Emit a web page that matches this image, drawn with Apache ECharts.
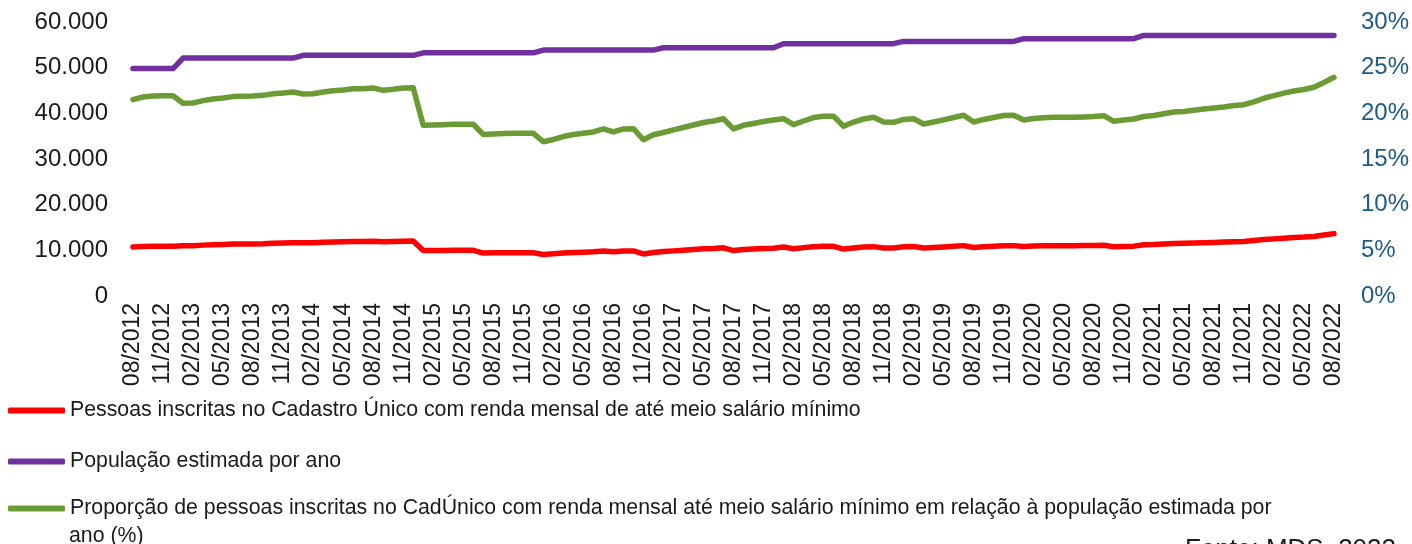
<!DOCTYPE html>
<html>
<head>
<meta charset="utf-8">
<script src="https://cdn.jsdelivr.net/npm/echarts@6/dist/echarts.min.js"></script>
<style>
  html, body { margin: 0; padding: 0; background: #fff; }
  #chart { width: 1412px; height: 544px; }
</style>
</head>
<body>
<div id="chart"></div>
<script>
// months 08/2012 .. 08/2022, label every 3rd one
const firstMonth = 8
const firstYear = 2012
const monthCount = 121
const months = []
for (let i = 0; i < monthCount; i++) {
  const m = (firstMonth - 1 + i) % 12 + 1
  const y = firstYear + Math.floor((firstMonth - 1 + i) / 12)
  months.push((m < 10 ? '0' + m : '' + m) + '/' + y)
}

const leftTicks = [0, 10000, 20000, 30000, 40000, 50000, 60000]
const rightTicks = [0, 5, 10, 15, 20, 25, 30]

// Pessoas inscritas no CadÚnico com renda até meio salário mínimo
const inscritos = [
  10710, 10850, 10910, 10920, 10920, 10990, 11010, 11140, 11240, 11300,
  11370, 11390, 11410, 11450, 11540, 11580, 11640, 11660, 11670, 11770,
  11850, 11890, 11960, 11960, 12000, 11870, 11930, 12000, 12020, 9950,
  9970, 9990, 10010, 10010, 10010, 9410, 9450, 9470, 9480, 9480,
  9480, 9100, 9230, 9400, 9520, 9600, 9670, 9850, 9670, 9850,
  9870, 9210, 9510, 9730, 9880, 10030, 10170, 10330, 10410, 10550,
  9940, 10160, 10270, 10390, 10470, 10720, 10360, 10590, 10800, 10870,
  10870, 10270, 10530, 10710, 10810, 10530, 10510, 10780, 10820, 10500,
  10620, 10750, 10890, 11030, 10620, 10780, 10890, 11020, 11030, 10860,
  10950, 10990, 11030, 11030, 11030, 11040, 11070, 11120, 10780, 10860,
  10920, 11210, 11270, 11390, 11500, 11530, 11600, 11680, 11740, 11800,
  11900, 11950, 12130, 12350, 12510, 12670, 12810, 12900, 13040, 13340,
  13660
]

// População estimada por ano
const populacao = [
  49800, 49800, 49800, 49800, 49800, 52100, 52100, 52100, 52100, 52100,
  52100, 52100, 52100, 52100, 52100, 52100, 52100, 52700, 52700, 52700,
  52700, 52700, 52700, 52700, 52700, 52700, 52700, 52700, 52700, 53250,
  53250, 53250, 53250, 53250, 53250, 53250, 53250, 53250, 53250, 53250,
  53250, 53850, 53850, 53850, 53850, 53850, 53850, 53850, 53850, 53850,
  53850, 53850, 53850, 54350, 54350, 54350, 54350, 54350, 54350, 54350,
  54350, 54350, 54350, 54350, 54350, 55250, 55250, 55250, 55250, 55250,
  55250, 55250, 55250, 55250, 55250, 55250, 55250, 55750, 55750, 55750,
  55750, 55750, 55750, 55750, 55750, 55750, 55750, 55750, 55750, 56350,
  56350, 56350, 56350, 56350, 56350, 56350, 56350, 56350, 56350, 56350,
  56350, 57050, 57050, 57050, 57050, 57050, 57050, 57050, 57050, 57050,
  57050, 57050, 57050, 57050, 57050, 57050, 57050, 57050, 57050, 57050,
  57050
]

// Proporção (%)
const proporcao = [
  21.50, 21.79, 21.90, 21.93, 21.93, 21.10, 21.13, 21.39, 21.57, 21.68,
  21.83, 21.86, 21.90, 21.97, 22.15, 22.23, 22.34, 22.12, 22.15, 22.34,
  22.48, 22.56, 22.70, 22.70, 22.77, 22.52, 22.63, 22.77, 22.81, 18.69,
  18.72, 18.76, 18.80, 18.80, 18.80, 17.68, 17.74, 17.79, 17.81, 17.81,
  17.81, 16.89, 17.14, 17.46, 17.68, 17.83, 17.96, 18.30, 17.96, 18.29,
  18.32, 17.11, 17.66, 17.90, 18.18, 18.45, 18.72, 19.00, 19.16, 19.41,
  18.29, 18.69, 18.89, 19.11, 19.27, 19.41, 18.76, 19.16, 19.54, 19.68,
  19.68, 18.58, 19.05, 19.38, 19.57, 19.05, 19.02, 19.33, 19.41, 18.83,
  19.05, 19.29, 19.54, 19.79, 19.05, 19.33, 19.54, 19.76, 19.79, 19.27,
  19.44, 19.51, 19.57, 19.57, 19.57, 19.60, 19.65, 19.74, 19.13, 19.27,
  19.38, 19.65, 19.76, 19.96, 20.15, 20.21, 20.34, 20.48, 20.58, 20.69,
  20.86, 20.95, 21.26, 21.65, 21.93, 22.21, 22.45, 22.61, 22.85, 23.38,
  23.95
]

const names = [
  'Pessoas inscritas no Cadastro Único com renda mensal de até meio salário mínimo',
  'População estimada por ano',
  'Proporção de pessoas inscritas no CadÚnico com renda mensal até meio salário mínimo em relação à população estimada por ano (%)'
]
// the long green name wraps in the original: first part beside the icon, rest below
const greenLine1 = 'Proporção de pessoas inscritas no CadÚnico com renda mensal até meio salário mínimo em relação à população estimada por'
const greenLine2 = 'ano (%)'
const colors = ['#ff0000', '#7030a0', '#6a9b34']
const font = "'Liberation Sans', Arial, sans-serif"

function fmtThousands (v) {
  return String(v).replace(/\B(?=(\d{3})+(?!\d))/g, '.')
}

function legendFor (idx, top, formatter) {
  return {
    data: [names[idx]],
    orient: 'vertical',
    left: 3,
    top: top,
    icon: 'roundRect',
    itemWidth: 57,
    itemHeight: 6,
    selectedMode: false,
    formatter: formatter || '{name}',
    textStyle: {
      fontFamily: font,
      fontSize: 21.3,
      color: '#1a1a1a',
      lineHeight: 27
    }
  }
}

const chart = echarts.init(document.getElementById('chart'), null, { renderer: 'canvas' })

const lineSeries = (idx, data, axis) => ({
  name: names[idx],
  type: 'line',
  data: data,
  yAxisIndex: axis,
  showSymbol: false,
  symbol: 'none',
  animation: false,
  lineStyle: { color: colors[idx], width: 5.5, cap: 'round', join: 'round' },
  itemStyle: { color: colors[idx] }
})

chart.setOption({
  animation: false,
  grid: { left: 128, right: 72, top: 22, bottom: 248, containLabel: false },
  legend: [
    legendFor(0, 392),
    legendFor(1, 443),
    legendFor(2, 490, () => greenLine1)
  ],
  xAxis: {
    type: 'category',
    data: months,
    boundaryGap: true,
    axisLine: { show: false },
    axisTick: { show: false },
    axisLabel: {
      interval: 2,
      rotate: 90,
      margin: 7,
      fontFamily: font,
      fontSize: 23,
      color: '#1a1a1a'
    },
    splitLine: { show: false }
  },
  yAxis: [
    {
      type: 'value',
      min: leftTicks[0],
      max: leftTicks[leftTicks.length - 1],
      interval: leftTicks[1] - leftTicks[0],
      axisLine: { show: false },
      axisTick: { show: false },
      splitLine: { show: false },
      axisLabel: {
        margin: 20,
        fontFamily: font,
        fontSize: 24,
        color: '#1a1a1a',
        formatter: fmtThousands
      }
    },
    {
      type: 'value',
      position: 'right',
      min: rightTicks[0],
      max: rightTicks[rightTicks.length - 1],
      interval: rightTicks[1] - rightTicks[0],
      axisLine: { show: false },
      axisTick: { show: false },
      splitLine: { show: false },
      axisLabel: {
        margin: 22,
        fontFamily: font,
        fontSize: 24,
        color: '#1d5a85',
        formatter: '{value}%'
      }
    }
  ],
  graphic: [
    {
      type: 'text',
      left: 69,
      top: 526,
      style: { text: greenLine2, fontFamily: font, fontSize: 21.3, fill: '#1a1a1a' }
    },
    {
      type: 'text',
      left: 1185,
      top: 537,
      style: { text: 'Fonte: MDS, 2022', fontFamily: font, fontSize: 26, fill: '#1a1a1a' }
    }
  ],
  series: [
    lineSeries(0, inscritos, 0),
    lineSeries(1, populacao, 0),
    lineSeries(2, proporcao, 1)
  ]
})
</script>
</body>
</html>
